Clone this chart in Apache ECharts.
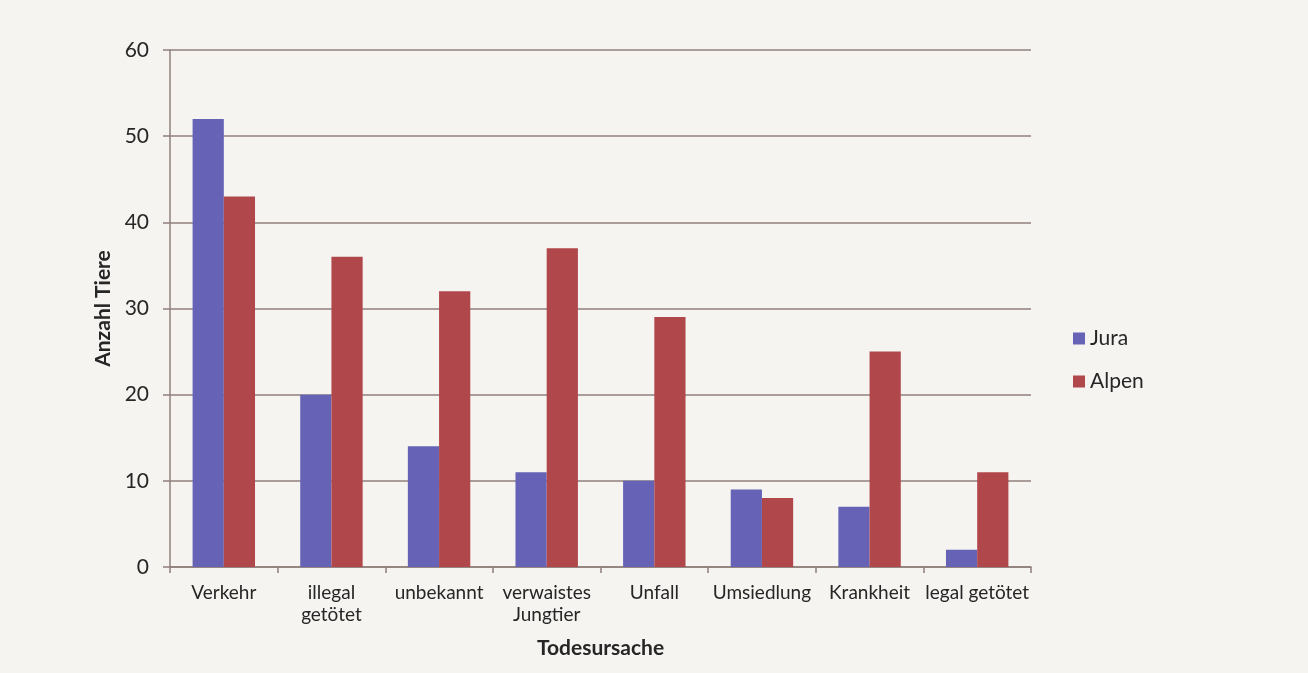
<!DOCTYPE html>
<html>
<head>
<meta charset="utf-8">
<script src="https://cdn.jsdelivr.net/npm/echarts@6/dist/echarts.min.js"></script>
<style>
  html, body { margin: 0; padding: 0; background: #f5f4f1; }
  #chart { width: 1308px; height: 673px; }
</style>
</head>
<body>
<div id="chart"></div>
<script>
// Todesursachen, Anzahl Tiere pro Region
const categories = ['Verkehr', 'illegal\ngetötet', 'unbekannt', 'verwaistes\nJungtier', 'Unfall', 'Umsiedlung', 'Krankheit', 'legal getötet'];
const jura = [52, 20, 14, 11, 10, 9, 7, 2];
const alpen = [43, 36, 32, 37, 29, 8, 25, 11];
const yTicks = { min: 0, max: 60, interval: 10 };

const axisColor = '#8f7f7b';
const textColor = '#262626';
const font = 'Lato, "Open Sans", sans-serif';

const chart = echarts.init(document.getElementById('chart'), null, { renderer: 'canvas' });
chart.setOption({
  backgroundColor: '#f5f4f1',
  animation: false,
  textStyle: { fontFamily: font },
  grid: { left: 170, right: 277, top: 50, bottom: 106 },
  legend: {
    orient: 'vertical',
    left: 1068,
    top: 323,
    itemWidth: 12,
    itemHeight: 12,
    itemGap: 22,
    icon: 'rect',
    textStyle: { fontSize: 21, color: textColor, fontFamily: font },
    data: ['Jura', 'Alpen']
  },
  xAxis: {
    type: 'category',
    data: categories,
    name: 'Todesursache',
    nameLocation: 'middle',
    nameGap: 71,
    nameTextStyle: { fontSize: 21, fontWeight: 'bold', color: textColor, fontFamily: font },
    axisLine: { lineStyle: { color: axisColor, width: 1.5 } },
    axisTick: { show: true, length: 6, lineStyle: { color: axisColor, width: 1.5 } },
    axisLabel: { fontSize: 19, color: textColor, margin: 15, lineHeight: 22, interval: 0, fontFamily: font }
  },
  yAxis: {
    type: 'value',
    min: yTicks.min,
    max: yTicks.max,
    interval: yTicks.interval,
    name: 'Anzahl Tiere',
    nameLocation: 'middle',
    nameGap: 55,
    nameRotate: 90,
    nameTextStyle: { fontSize: 21, fontWeight: 'bold', color: textColor, fontFamily: font },
    axisLine: { show: true, lineStyle: { color: axisColor, width: 1.5 } },
    axisTick: { show: true, length: 7, lineStyle: { color: axisColor, width: 1.5 } },
    axisLabel: { fontSize: 21, color: textColor, margin: 21, fontFamily: font },
    splitLine: { lineStyle: { color: axisColor, width: 1.5 } }
  },
  series: [
    {
      name: 'Jura',
      type: 'bar',
      data: jura,
      barGap: '0%',
      barCategoryGap: '42%',
      itemStyle: { color: '#6663b6' }
    },
    {
      name: 'Alpen',
      type: 'bar',
      data: alpen,
      barGap: '0%',
      barCategoryGap: '42%',
      itemStyle: { color: '#b0474a' }
    }
  ]
});
</script>
</body>
</html>
